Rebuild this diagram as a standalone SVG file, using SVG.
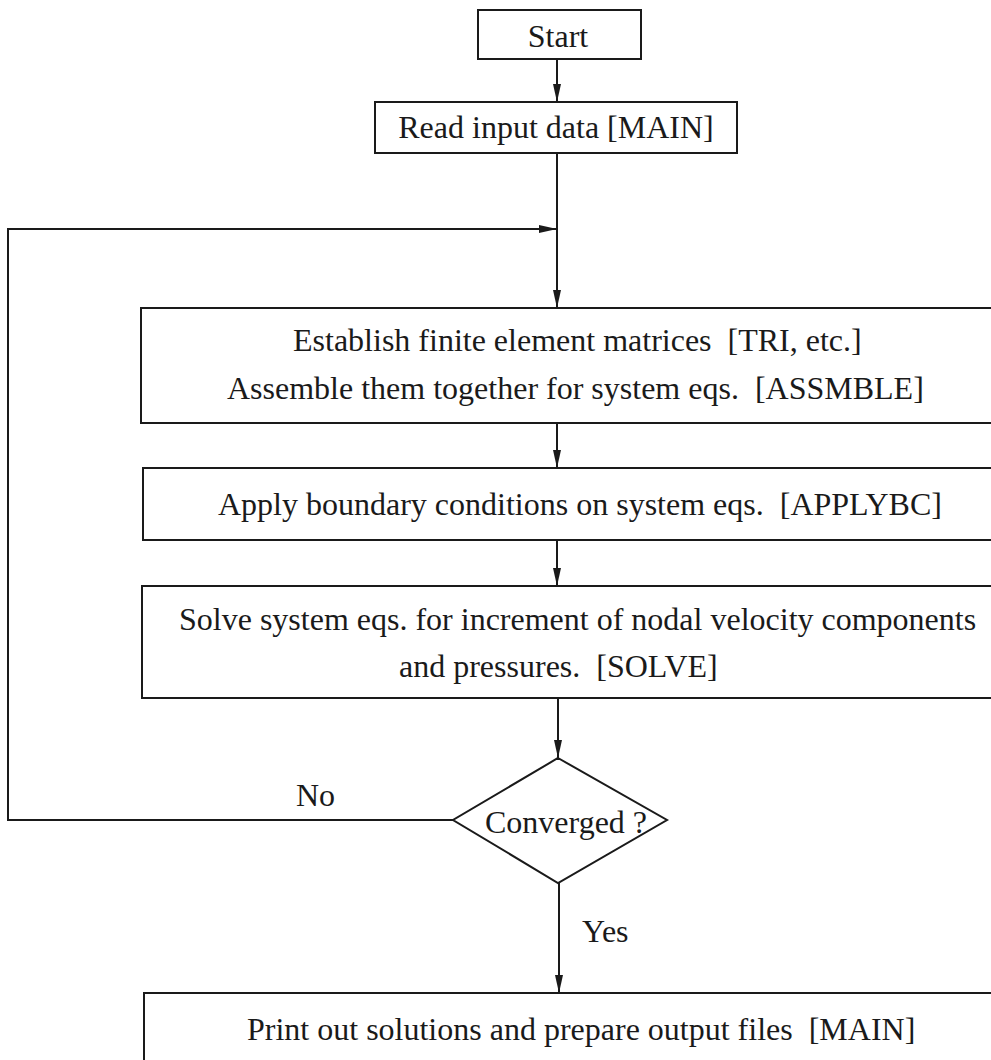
<svg xmlns="http://www.w3.org/2000/svg" width="991" height="1060" viewBox="0 0 991 1060">
<defs>
<marker id="ah" viewBox="0 0 18 8" refX="18" refY="4" markerWidth="18" markerHeight="8" markerUnits="userSpaceOnUse" orient="auto">
<path d="M0,0 L18,4 L0,8 Z" fill="#1a1a1a"/>
</marker>
<style>
.box{fill:#fff;stroke:#1a1a1a;stroke-width:2}
.t{font-family:"Liberation Serif","Times New Roman",serif;font-size:32px;fill:#1a1a1a}
.c{text-anchor:middle}
.ln{fill:none;stroke:#1a1a1a;stroke-width:2}
</style>
</defs>
<rect width="991" height="1060" fill="#fff"/>
<g id="connectors">
<line class="ln" x1="557" y1="59" x2="557" y2="102" marker-end="url(#ah)"/>
<line class="ln" x1="557" y1="153" x2="557" y2="308" marker-end="url(#ah)"/>
<polyline class="ln" points="453,820 8,820 8,229 557,229" marker-end="url(#ah)"/>
<line class="ln" x1="557" y1="423" x2="557" y2="468" marker-end="url(#ah)"/>
<line class="ln" x1="557" y1="540" x2="557" y2="586" marker-end="url(#ah)"/>
<line class="ln" x1="558" y1="698" x2="558" y2="758" marker-end="url(#ah)"/>
<line class="ln" x1="559" y1="883" x2="559" y2="993" marker-end="url(#ah)"/>
<text class="t" x="296" y="806">No</text>
<text class="t" x="582" y="942">Yes</text>
</g>
<g id="start">
<rect class="box" x="478" y="10" width="163" height="49"/>
<text class="t c" x="558" y="47">Start</text>
</g>
<g id="read">
<rect class="box" x="375" y="102" width="362" height="51"/>
<text class="t c" x="556" y="138">Read input data [MAIN]</text>
</g>
<g id="establish">
<rect class="box" x="141" y="308" width="870" height="115"/>
<text class="t" x="293" y="351">Establish finite element matrices &#160;[TRI, etc.]</text>
<text class="t" x="227" y="399">Assemble them together for system eqs. &#160;[ASSMBLE]</text>
</g>
<g id="apply">
<rect class="box" x="143" y="468" width="868" height="72"/>
<text class="t" x="218" y="515">Apply boundary conditions on system eqs. &#160;[APPLYBC]</text>
</g>
<g id="solve">
<rect class="box" x="142" y="586" width="869" height="112"/>
<text class="t" x="179" y="630">Solve system eqs. for increment of nodal velocity components</text>
<text class="t" x="399" y="677">and pressures. &#160;[SOLVE]</text>
</g>
<g id="converged">
<polygon class="box" points="558,758 667,820 558,883 453,820"/>
<text class="t" x="485" y="833">Converged ?</text>
</g>
<g id="print">
<rect class="box" x="144" y="993" width="867" height="80"/>
<text class="t" x="247" y="1040">Print out solutions and prepare output files &#160;[MAIN]</text>
</g>
</svg>
